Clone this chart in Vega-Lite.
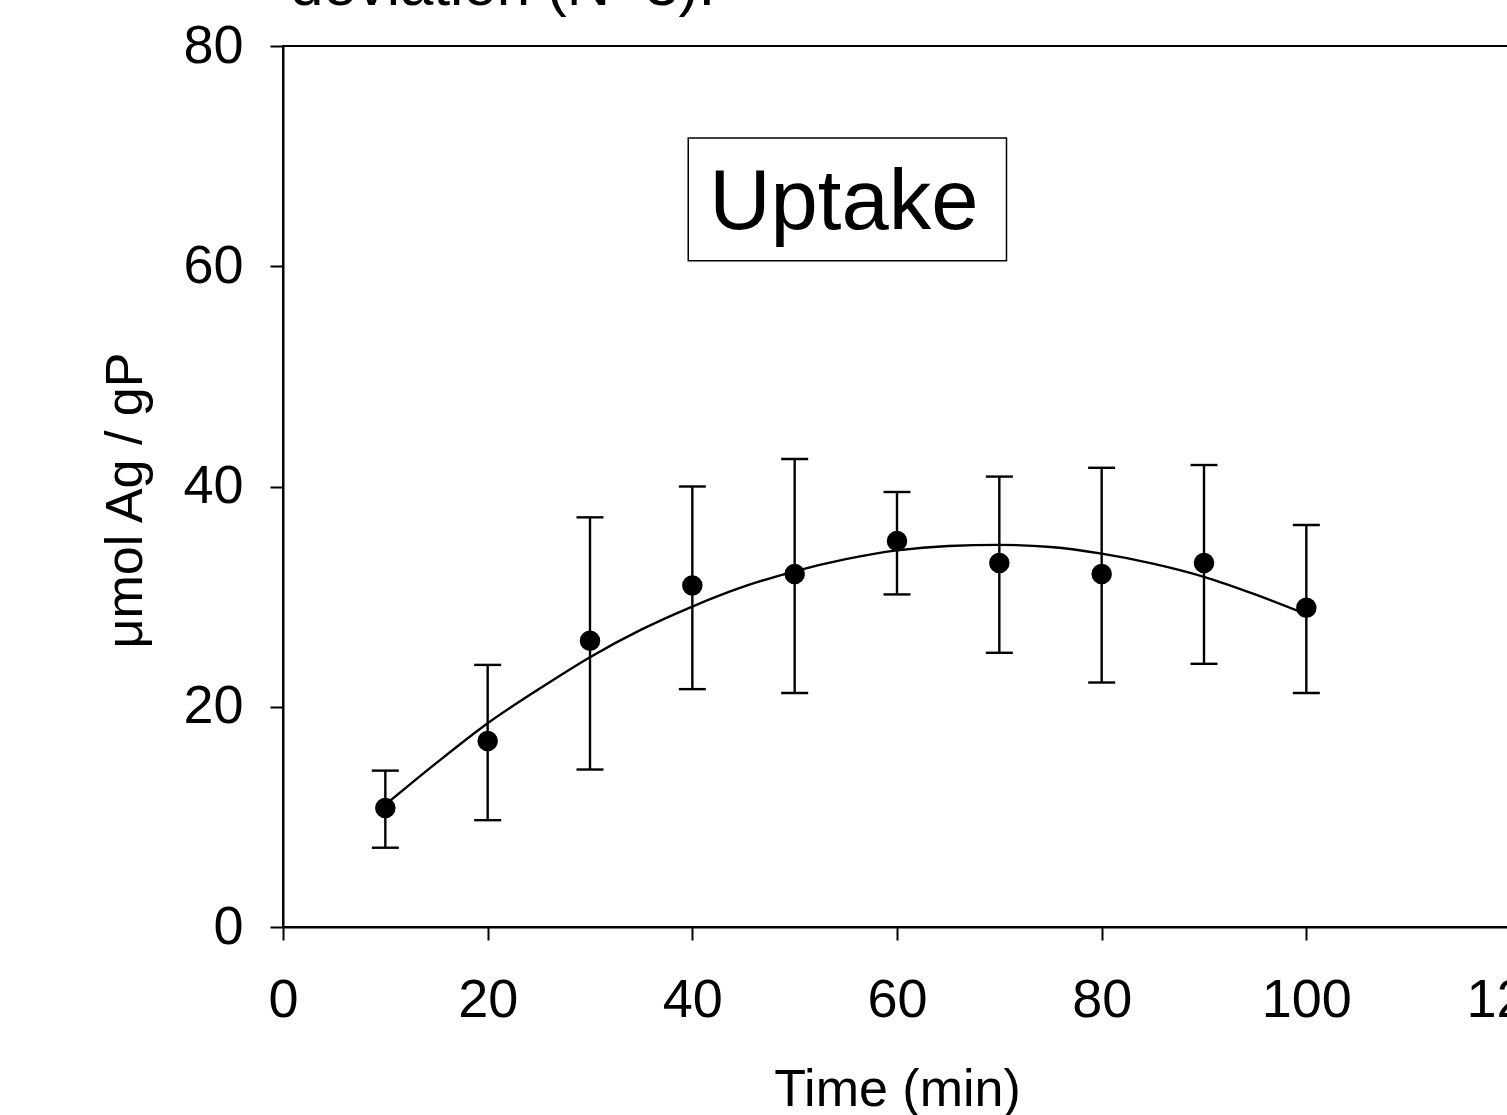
{
  "$schema": "https://vega.github.io/schema/vega-lite/v6.json",
  "width": 1228,
  "height": 881,
  "autosize": {"type": "none"},
  "padding": {"left": 283, "top": 46, "right": 0, "bottom": 188},
  "background": "white",
  "title": {
    "text": "deviation (N=3).",
    "anchor": "start",
    "frame": "group",
    "font": "Liberation Sans",
    "fontSize": 60,
    "fontWeight": "normal",
    "color": "black",
    "baseline": "alphabetic",
    "offset": -46,
    "dx": 7
  },
  "config": {
    "view": {"stroke": "black", "strokeWidth": 2},
    "axis": {
      "grid": false,
      "labelFont": "Liberation Sans",
      "labelFontSize": 54,
      "labelColor": "black",
      "labelFlush": false,
      "titleFont": "Liberation Sans",
      "titleFontSize": 52,
      "titleFontWeight": "normal",
      "titleColor": "black",
      "domainColor": "black",
      "domainWidth": 2,
      "tickColor": "black",
      "tickWidth": 2,
      "tickSize": 13
    }
  },
  "datasets": {
    "obs": [
      {"time": 10, "uptake": 10.8, "lo": 7.2, "hi": 14.2},
      {"time": 20, "uptake": 16.9, "lo": 9.7, "hi": 23.8},
      {"time": 30, "uptake": 26.0, "lo": 14.3, "hi": 37.2},
      {"time": 40, "uptake": 31.0, "lo": 21.6, "hi": 40.0},
      {"time": 50, "uptake": 32.05, "lo": 21.25, "hi": 42.5},
      {"time": 60, "uptake": 35.05, "lo": 30.2, "hi": 39.5},
      {"time": 70, "uptake": 33.05, "lo": 24.9, "hi": 40.9},
      {"time": 80, "uptake": 32.05, "lo": 22.2, "hi": 41.7},
      {"time": 90, "uptake": 33.05, "lo": 23.9, "hi": 41.95},
      {"time": 100, "uptake": 29.0, "lo": 21.25, "hi": 36.5}
    ],
    "fit": [
      {"time": 10, "fit": 11.1},
      {"time": 15, "fit": 14.9},
      {"time": 20, "fit": 18.5},
      {"time": 25, "fit": 21.6},
      {"time": 30, "fit": 24.5},
      {"time": 35, "fit": 27.0},
      {"time": 40, "fit": 29.1},
      {"time": 45, "fit": 30.9},
      {"time": 50, "fit": 32.3},
      {"time": 55, "fit": 33.4},
      {"time": 60, "fit": 34.2},
      {"time": 65, "fit": 34.6},
      {"time": 70, "fit": 34.7},
      {"time": 75, "fit": 34.5},
      {"time": 80, "fit": 33.9},
      {"time": 85, "fit": 33.0},
      {"time": 90, "fit": 31.8},
      {"time": 95, "fit": 30.2},
      {"time": 100, "fit": 28.4}
    ],
    "note": [
      {"label": "Uptake", "x1": 39.6, "x2": 70.7, "y1": 60.5, "y2": 71.65, "xm": 54.8, "ym": 65.7}
    ]
  },
  "encoding": {
    "x": {
      "field": "time",
      "type": "quantitative",
      "scale": {"domain": [0, 120], "nice": false, "zero": false},
      "axis": {"values": [0, 20, 40, 60, 80, 100, 120], "labelPadding": 33, "titlePadding": 37, "title": "Time (min)"}
    }
  },
  "layer": [
    {
      "data": {"name": "note"},
      "mark": {"type": "rect", "fill": "white", "stroke": "black", "strokeWidth": 1.5},
      "encoding": {
        "x": {"field": "x1", "type": "quantitative"},
        "x2": {"field": "x2"},
        "y": {"field": "y1", "type": "quantitative"},
        "y2": {"field": "y2"}
      }
    },
    {
      "data": {"name": "note"},
      "mark": {"type": "text", "font": "Liberation Sans", "fontSize": 85, "color": "black", "align": "center", "baseline": "middle"},
      "encoding": {
        "x": {"field": "xm", "type": "quantitative"},
        "y": {"field": "ym", "type": "quantitative"},
        "text": {"field": "label"}
      }
    },
    {
      "data": {"name": "fit"},
      "mark": {"type": "line", "color": "black", "strokeWidth": 2.4, "interpolate": "monotone"},
      "encoding": {
        "y": {"field": "fit", "type": "quantitative"}
      }
    },
    {
      "data": {"name": "obs"},
      "mark": {"type": "rule", "color": "black", "strokeWidth": 2.4},
      "encoding": {
        "y": {"field": "lo", "type": "quantitative"},
        "y2": {"field": "hi"}
      }
    },
    {
      "data": {"name": "obs"},
      "mark": {"type": "tick", "orient": "horizontal", "color": "black", "thickness": 2.4, "size": 27, "opacity": 1},
      "encoding": {
        "y": {"field": "lo", "type": "quantitative"}
      }
    },
    {
      "data": {"name": "obs"},
      "mark": {"type": "tick", "orient": "horizontal", "color": "black", "thickness": 2.4, "size": 27, "opacity": 1},
      "encoding": {
        "y": {"field": "hi", "type": "quantitative"}
      }
    },
    {
      "data": {"name": "obs"},
      "mark": {"type": "point", "filled": true, "color": "black", "size": 420, "opacity": 1, "shape": "circle"},
      "encoding": {
        "y": {
          "field": "uptake",
          "type": "quantitative",
          "scale": {"domain": [0, 80], "nice": false},
          "axis": {"values": [0, 20, 40, 60, 80], "labelPadding": 27, "titlePadding": 30, "titleY": 454, "title": "μmol Ag / gP"}
        }
      }
    }
  ]
}
